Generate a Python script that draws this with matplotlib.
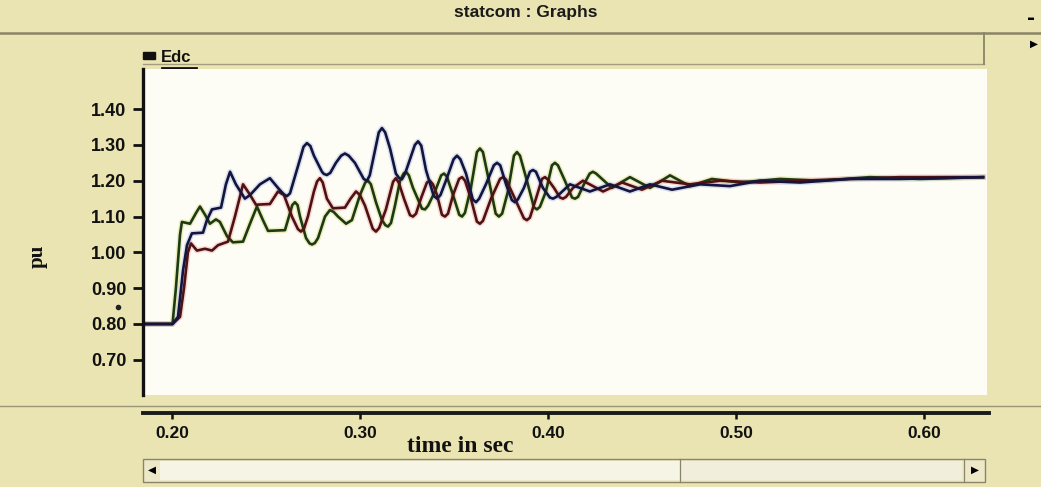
import matplotlib
matplotlib.use("Agg")
import matplotlib.pyplot as plt
from matplotlib.patches import Rectangle

W, H = 1041, 487
BG = "#eae4b3"
PANEL = "#fdfdf6"

# Edc traces (pu) read at the listed times (s)
t_navy = [0.1846, 0.2003, 0.2032, 0.2059, 0.2080, 0.2106, 0.2165, 0.2186, 0.2213, 0.2261,
          0.2287, 0.2309, 0.2340, 0.2388, 0.2415, 0.2468, 0.2521, 0.2564, 0.2595, 0.2612,
          0.2628, 0.2681, 0.2700, 0.2718, 0.2736, 0.2755, 0.2798, 0.2808, 0.2824, 0.2842,
          0.2872, 0.2900, 0.2920, 0.2940, 0.2973, 0.3020, 0.3037, 0.3052, 0.3074, 0.3100,
          0.3117, 0.3134, 0.3160, 0.3191, 0.3207, 0.3223, 0.3240, 0.3266, 0.3292, 0.3309,
          0.3326, 0.3351, 0.3392, 0.3410, 0.3428, 0.3457, 0.3498, 0.3516, 0.3534, 0.3564,
          0.3600, 0.3617, 0.3634, 0.3670, 0.3712, 0.3729, 0.3746, 0.3777, 0.3808, 0.3824,
          0.3840, 0.3872, 0.3904, 0.3920, 0.3936, 0.3973, 0.4010, 0.4027, 0.4045, 0.4117,
          0.4223, 0.4330, 0.4436, 0.4543, 0.4660, 0.4809, 0.4968, 0.5128, 0.5340, 0.5606,
          0.5872, 0.6314]
v_navy = [0.80, 0.80, 0.82, 0.95, 1.02, 1.053, 1.055, 1.09, 1.12, 1.125,
          1.19, 1.225, 1.19, 1.15, 1.16, 1.19, 1.207, 1.18, 1.162, 1.157,
          1.165, 1.26, 1.295, 1.305, 1.297, 1.27, 1.225, 1.219, 1.216, 1.222,
          1.25, 1.27, 1.276, 1.27, 1.25, 1.205, 1.20, 1.215, 1.27, 1.335,
          1.347, 1.335, 1.29, 1.22, 1.208, 1.204, 1.22, 1.26, 1.30, 1.31,
          1.298, 1.23, 1.158, 1.15, 1.16, 1.20, 1.26, 1.27, 1.26, 1.22,
          1.148, 1.14, 1.15, 1.19, 1.243, 1.25, 1.243, 1.19, 1.146, 1.14,
          1.148, 1.18, 1.225, 1.23, 1.225, 1.18, 1.153, 1.15, 1.155, 1.19,
          1.17, 1.19, 1.17, 1.19, 1.175, 1.19, 1.185, 1.20, 1.195, 1.205,
          1.205, 1.21]

t_red = [0.1846, 0.2003, 0.2043, 0.2064, 0.2085, 0.2101, 0.2133, 0.2176, 0.2213, 0.2245,
         0.2298, 0.2335, 0.2378, 0.2410, 0.2447, 0.2521, 0.2564, 0.2596, 0.2638, 0.2670,
         0.2686, 0.2702, 0.2723, 0.2755, 0.2772, 0.2787, 0.2802, 0.2824, 0.2856, 0.2920,
         0.2950, 0.2979, 0.3000, 0.3027, 0.3068, 0.3085, 0.3102, 0.3138, 0.3176, 0.3191,
         0.3206, 0.3234, 0.3266, 0.3282, 0.3298, 0.3324, 0.3356, 0.3372, 0.3388, 0.3410,
         0.3436, 0.3452, 0.3468, 0.3495, 0.3527, 0.3543, 0.3559, 0.3590, 0.3622, 0.3638,
         0.3654, 0.3697, 0.3745, 0.3761, 0.3777, 0.3824, 0.3872, 0.3888, 0.3904, 0.3936,
         0.3968, 0.3984, 0.4000, 0.4032, 0.4064, 0.4080, 0.4096, 0.4133, 0.4186, 0.4293,
         0.4394, 0.4500, 0.4606, 0.4755, 0.4915, 0.5128, 0.5340, 0.5606, 0.5872, 0.6314]
v_red = [0.80, 0.80, 0.82, 0.90, 1.00, 1.025, 1.005, 1.01, 1.005, 1.02,
         1.03, 1.10, 1.19, 1.165, 1.133, 1.135, 1.17, 1.16, 1.10, 1.065,
         1.058, 1.066, 1.10, 1.17, 1.198, 1.207, 1.195, 1.15, 1.123, 1.125,
         1.15, 1.17, 1.16, 1.13, 1.066, 1.058, 1.068, 1.12, 1.197, 1.207,
         1.195, 1.15, 1.104, 1.10, 1.108, 1.15, 1.195, 1.20, 1.19, 1.16,
         1.105, 1.10, 1.108, 1.16, 1.205, 1.21, 1.20, 1.15, 1.086, 1.08,
         1.088, 1.15, 1.205, 1.21, 1.203, 1.15, 1.095, 1.09, 1.097, 1.15,
         1.205, 1.21, 1.203, 1.18, 1.153, 1.15, 1.155, 1.18, 1.20, 1.17,
         1.195, 1.175, 1.20, 1.19, 1.20, 1.195, 1.20, 1.205, 1.21, 1.21]

t_green = [0.1846, 0.2003, 0.2021, 0.2043, 0.2053, 0.2096, 0.2128, 0.2149, 0.2176, 0.2202,
           0.2234, 0.2255, 0.2293, 0.2324, 0.2378, 0.2415, 0.2452, 0.2484, 0.2511, 0.2601,
           0.2628, 0.2640, 0.2654, 0.2668, 0.2681, 0.2713, 0.2732, 0.2745, 0.2760, 0.2777,
           0.2814, 0.2840, 0.2860, 0.2883, 0.2926, 0.2957, 0.3000, 0.3028, 0.3043, 0.3058,
           0.3085, 0.3117, 0.3135, 0.3149, 0.3165, 0.3186, 0.3213, 0.3232, 0.3245, 0.3260,
           0.3282, 0.3330, 0.3346, 0.3362, 0.3399, 0.3432, 0.3447, 0.3462, 0.3495, 0.3528,
           0.3543, 0.3558, 0.3590, 0.3622, 0.3638, 0.3654, 0.3686, 0.3722, 0.3739, 0.3756,
           0.3787, 0.3819, 0.3835, 0.3851, 0.3888, 0.3925, 0.3941, 0.3957, 0.3989, 0.4021,
           0.4037, 0.4053, 0.4090, 0.4128, 0.4144, 0.4160, 0.4191, 0.4222, 0.4239, 0.4256,
           0.4340, 0.4436, 0.4543, 0.4649, 0.4755, 0.4872, 0.5021, 0.5234, 0.5447, 0.5713,
           0.5979, 0.6314]
v_green = [0.80, 0.80, 0.90, 1.05, 1.085, 1.08, 1.11, 1.128, 1.105, 1.08,
           1.092, 1.085, 1.045, 1.028, 1.03, 1.08, 1.128, 1.09, 1.06, 1.062,
           1.11, 1.132, 1.14, 1.132, 1.10, 1.04, 1.025, 1.022, 1.026, 1.04,
           1.10, 1.118, 1.113, 1.10, 1.08, 1.09, 1.16, 1.195, 1.20, 1.19,
           1.14, 1.09, 1.076, 1.072, 1.082, 1.13, 1.20, 1.22, 1.225, 1.215,
           1.18, 1.122, 1.12, 1.13, 1.17, 1.215, 1.22, 1.212, 1.16, 1.105,
           1.10, 1.11, 1.18, 1.28, 1.29, 1.28, 1.20, 1.108, 1.10, 1.108,
           1.17, 1.27, 1.28, 1.27, 1.20, 1.126, 1.12, 1.127, 1.17, 1.243,
           1.25, 1.243, 1.20, 1.153, 1.15, 1.155, 1.19, 1.22, 1.225, 1.22,
           1.18, 1.21, 1.18, 1.215, 1.185, 1.205, 1.195, 1.205, 1.20, 1.21,
           1.205, 1.21]

x_ticks = [0.20, 0.30, 0.40, 0.50, 0.60]
y_ticks = [0.70, 0.80, 0.90, 1.00, 1.10, 1.20, 1.30, 1.40]

traces = [
    (t_green, v_green, "#1d3a18", "#d9dc70"),
    (t_red, v_red, "#4e1212", "#eeaaaa"),
    (t_navy, v_navy, "#14143e", "#a9bde0"),
]

XLIM = (0.1846, 0.6335)
YLIM = (0.6017, 1.512)

fig = plt.figure(figsize=(W / 100, H / 100), dpi=100, facecolor=BG)


def fx(px):
    return px / W


def fy(py):
    return 1 - py / H


# window chrome drawn in pixel coordinates
ov = fig.add_axes([0, 0, 1, 1], zorder=0)
ov.set_xlim(0, W)
ov.set_ylim(H, 0)
ov.axis("off")
ov.text(526, 12, "statcom : Graphs", ha="center", va="center", fontsize=12.5,
        fontweight="bold", family="Liberation Sans", color="#1a1a1a")
ov.text(1031, 18, "-", ha="center", va="center", fontsize=14, fontweight="bold")
ov.text(1034, 44, "\u25B6", ha="center", va="center", fontsize=7.5)
ov.plot([0, W], [33, 33], color="#8a8468", lw=1.8)
ov.plot([143, 984], [64, 64], color="#a39d80", lw=1.0)
ov.plot([984, 984], [33, 64], color="#8a8468", lw=1.3)
ov.plot([0, W], [406, 406], color="#9b9678", lw=1.0)
ov.plot([143, 989], [413, 413], color="#1a1a1a", lw=2.8)
# legend entry
ov.add_patch(Rectangle((143, 52), 12, 7, color="#111111"))
ov.text(161, 57, "Edc", ha="left", va="center", fontsize=12, fontweight="bold",
        family="Liberation Sans", color="#111111")
ov.plot([162, 196], [67.5, 67.5], color="#111111", lw=2)
ov.plot([118], [307], marker="o", ms=3, color="#222222")
# scrollbar
ov.add_patch(Rectangle((143, 459), 842, 23, facecolor="#ece8c8", edgecolor="#8a8468", lw=1.0))
ov.add_patch(Rectangle((160, 461), 520, 19, facecolor="#f6f4e4", edgecolor="none"))
ov.add_patch(Rectangle((680, 461), 282, 19, facecolor="#f1eedb", edgecolor="none"))
ov.plot([680, 680], [459, 482], color="#8a8468", lw=0.9)
ov.plot([964, 964], [459, 482], color="#8a8468", lw=0.9)
ov.text(152, 470, "\u25C0", ha="center", va="center", fontsize=7.5)
ov.text(975, 470, "\u25B6", ha="center", va="center", fontsize=7.5)
ov.text(38, 256, "pu", ha="center", va="center", rotation=90, fontsize=15,
        fontweight="bold", family="Liberation Serif", color="#111111")
ov.text(460, 446, "time in sec", ha="center", va="center", fontsize=17,
        fontweight="bold", family="Liberation Serif", color="#111111")

# plot area
ax = fig.add_axes([fx(143), fy(395), fx(987 - 143), (395 - 69) / H], zorder=2)
ax.set_facecolor(PANEL)
for t, v, c, halo in traces:
    ax.plot(t, v, color=halo, lw=4.0, alpha=0.45, solid_joinstyle="round")
for t, v, c, halo in traces:
    ax.plot(t, v, color=c, lw=1.9, solid_joinstyle="round")
ax.set_xlim(*XLIM)
ax.set_ylim(*YLIM)
for s in ("top", "right", "bottom"):
    ax.spines[s].set_visible(False)
ax.spines["left"].set_linewidth(2.4)
ax.spines["left"].set_color("#111111")
ax.set_xticks([])
ax.set_yticks(y_ticks)
ax.set_yticklabels([f"{y:.2f}" for y in y_ticks], fontsize=13, fontweight="bold",
                   family="Liberation Sans")
ax.tick_params(axis="y", length=7, width=2, pad=5, colors="#111111")

# time axis underneath
xa = fig.add_axes([fx(143), fy(413), fx(987 - 143), 0.0001], zorder=1)
xa.set_xlim(*XLIM)
xa.patch.set_visible(False)
for s in ("top", "right", "left", "bottom"):
    xa.spines[s].set_visible(False)
xa.set_yticks([])
xa.set_xticks(x_ticks)
xa.set_xticklabels([f"{x:.2f}" for x in x_ticks], fontsize=12.5, fontweight="bold",
                   family="Liberation Sans")
xa.tick_params(axis="x", length=4, width=1.8, pad=5, colors="#111111")

fig.savefig("out.png", dpi=100, facecolor=BG)
